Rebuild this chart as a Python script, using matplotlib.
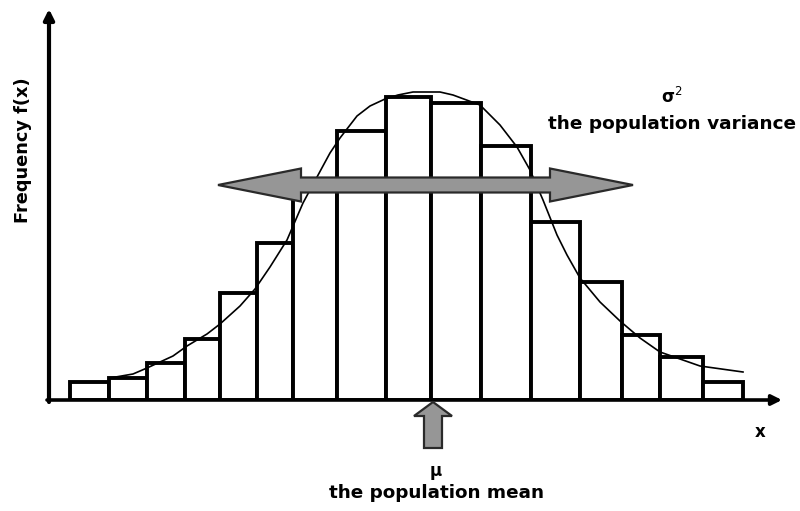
import matplotlib
matplotlib.use("Agg")
import matplotlib.pyplot as plt
from matplotlib.patches import FancyArrow, Polygon

# ---- data (x in bin units along the axis, heights as frequencies) ----
bin_edges = [21, 60, 98, 136, 171, 208, 244, 288, 337, 382, 432, 482, 531, 573, 611, 654, 694]
freqs = [18, 22, 37, 61, 107, 157, 214, 269, 303, 297, 254, 178, 118, 65, 43, 18]

curve_x = [61, 84, 98, 124, 138, 158, 171, 191, 206, 221, 238, 254, 268, 281, 291, 308, 321,
           336, 349, 364, 391, 404, 431, 451, 468, 481, 494, 508, 518, 531, 551, 571, 591, 611, 651, 694]
curve_y = [22, 26, 32, 44, 54, 66, 76, 94, 111, 133, 160, 197, 223, 247, 262, 284, 294,
           301, 305, 308, 308, 305, 295, 275, 253, 230, 200, 165, 145, 122, 98, 79, 62, 48, 34, 28]

mu_x = 384           # position of the population mean on the x axis
spread_left = 169    # ends of the variance arrow
spread_right = 584
spread_level = 215

fig = plt.figure(figsize=(8.0, 5.11), dpi=100)
ax = fig.add_axes([49 / 800, 111 / 511, 732 / 800, 388 / 511])
ax.set_xlim(0, 732)
ax.set_ylim(0, 388)
ax.axis("off")

# histogram bars
lefts = bin_edges[:-1]
widths = [b - a for a, b in zip(bin_edges[:-1], bin_edges[1:])]
ax.bar(lefts, freqs, width=widths, align="edge", facecolor="white",
       edgecolor="black", linewidth=2.8, zorder=2)

# fitted curve
ax.plot(curve_x, curve_y, color="black", linewidth=1.2, zorder=3,
        solid_joinstyle="round")

# axes with arrows
ax.annotate("", xy=(0, 391), xytext=(0, -2), xycoords="data",
            arrowprops=dict(arrowstyle="-|>,head_length=0.6,head_width=0.3",
                            color="black", lw=3.0, shrinkA=0, shrinkB=0),
            annotation_clip=False, zorder=4)
ax.annotate("", xy=(733, 0), xytext=(-2, 0), xycoords="data",
            arrowprops=dict(arrowstyle="-|>,head_length=0.6,head_width=0.3",
                            color="black", lw=2.6, shrinkA=0, shrinkB=0),
            annotation_clip=False, zorder=4)

# variance double arrow (one outline)
hl, hw, w = 83, 33, 15
L, R, y0 = spread_left, spread_right, spread_level
verts = [(L, y0), (L + hl, y0 + hw / 2), (L + hl, y0 + w / 2), (R - hl, y0 + w / 2),
         (R - hl, y0 + hw / 2), (R, y0), (R - hl, y0 - hw / 2), (R - hl, y0 - w / 2),
         (L + hl, y0 - w / 2), (L + hl, y0 - hw / 2)]
ax.add_patch(Polygon(verts, closed=True, facecolor="#969696", edgecolor="#2a2a2a",
                     linewidth=1.6, joinstyle="miter", zorder=5))

# mean arrow (pointing up to the axis)
ax.add_patch(FancyArrow(mu_x, -48, 0, 46, width=18, head_width=38, head_length=14,
                        length_includes_head=True, facecolor="#969696",
                        edgecolor="#2a2a2a", linewidth=1.6, zorder=5, clip_on=False))

tkw = dict(fontweight="bold", color="black", ha="center", va="center",
           family="DejaVu Sans")
fig.text(672 / 800, 1 - 97 / 511, r"σ$^2$", fontsize=12, **tkw)
fig.text(672 / 800, 1 - 124 / 511, "the population variance", fontsize=13.3, **tkw)
fig.text(436 / 800, 1 - 471 / 511, "μ", fontsize=12, **tkw)
fig.text(436 / 800, 1 - 493 / 511, "the population mean", fontsize=13.2, **tkw)
fig.text(760 / 800, 1 - 432 / 511, "x", fontsize=12, **tkw)
fig.text(23 / 800, 1 - 150 / 511, "Frequency f(x)", fontsize=12.8, rotation=90, **tkw)

fig.savefig("out.png", dpi=100)
